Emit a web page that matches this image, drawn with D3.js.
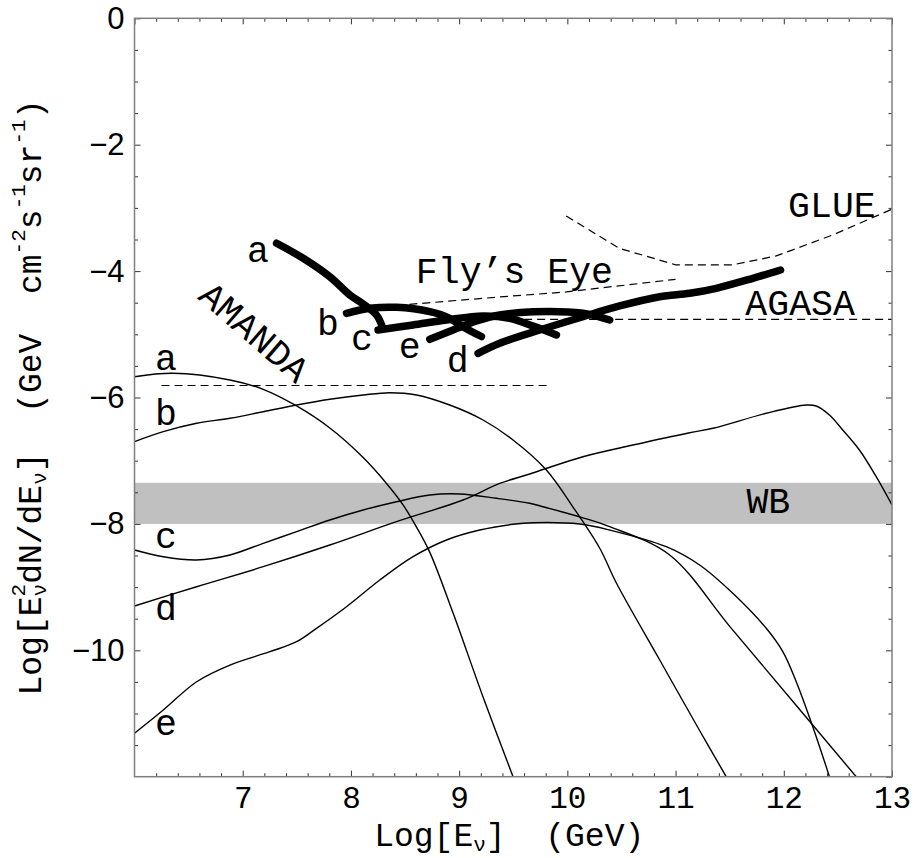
<!DOCTYPE html>
<html><head><meta charset="utf-8">
<script src="https://cdn.jsdelivr.net/npm/d3@7"></script>
<style>
html,body{margin:0;padding:0;background:#fff;}
svg{display:block;}
</style></head>
<body>
<svg id="chart" width="915" height="858"></svg>
<script>
// ---- data (log10 E [GeV], log10 E^2 dN/dE) ----
const xTickValues = [7, 8, 9, 10, 11, 12, 13];
const yTickValues = [0, -2, -4, -6, -8, -10];
const curveNames = ["a", "b", "c", "d", "e"];

const thinA = [[6.0,-5.671],[6.358,-5.617],[6.882,-5.723],[7.189,-5.870],[7.498,-6.134],[7.805,-6.483],[8.113,-6.95],[8.329,-7.36],[8.482,-7.70],[8.606,-8.05],[8.729,-8.45],[8.944,-9.41],[9.221,-10.739],[9.498,-12.0]];
const thinB = [[6.0,-6.699],[6.266,-6.541],[6.574,-6.408],[6.882,-6.329],[7.189,-6.225],[7.498,-6.119],[7.805,-6.028],[8.113,-5.960],[8.359,-5.924],[8.606,-5.960],[8.913,-6.119],[9.221,-6.356],[9.498,-6.672],[9.806,-7.147],[10.052,-7.733],[10.298,-8.381],[10.453,-8.935],[10.851,-10.146],[11.222,-11.269],[11.468,-12.0]];
const thinC = [[6.0,-8.413],[6.266,-8.519],[6.574,-8.571],[6.882,-8.492],[7.189,-8.307],[7.498,-8.123],[7.805,-7.938],[8.113,-7.780],[8.421,-7.649],[8.729,-7.543],[9.006,-7.527],[9.345,-7.595],[9.652,-7.674],[9.775,-7.728],[10.130,-7.896],[10.391,-8.044],[10.945,-8.492],[11.5,-9.621],[12.1,-10.842],[12.669,-12.0]];
const thinD = [[6.0,-9.299],[6.574,-8.994],[7.189,-8.677],[7.805,-8.334],[8.421,-7.965],[9.036,-7.622],[9.375,-7.36],[9.652,-7.21],[10.144,-6.937],[10.606,-6.752],[11.130,-6.557],[11.345,-6.487],[11.838,-6.250],[12.207,-6.119],[12.300,-6.134],[12.422,-6.277],[12.545,-6.514],[12.699,-6.831],[12.854,-7.253],[13.0,-7.701]];
const thinE = [[6.0,-11.313],[6.266,-10.945],[6.574,-10.497],[6.882,-10.233],[7.251,-10.022],[7.498,-9.864],[7.682,-9.652],[7.959,-9.310],[8.267,-8.888],[8.574,-8.519],[8.883,-8.255],[9.190,-8.097],[9.498,-8.006],[9.683,-7.981],[10.114,-8.002],[10.391,-8.097],[10.914,-8.361],[11.222,-8.650],[11.529,-9.098],[11.838,-9.652],[11.991,-10.022],[12.115,-10.497],[12.268,-11.209],[12.422,-12.0]];

const thickA = [[7.313,-3.56],[7.559,-3.797],[7.805,-4.089],[7.99,-4.378],[8.113,-4.52],[8.236,-4.695],[8.29,-4.88]];
const thickB = [[7.959,-4.668],[8.175,-4.589],[8.421,-4.573],[8.729,-4.642],[8.913,-4.747],[9.033,-4.88],[9.206,-5.035]];
const thickC = [[8.251,-4.932],[8.574,-4.853],[8.883,-4.774],[9.221,-4.71],[9.467,-4.747],[9.683,-4.869],[9.899,-5.011]];
const thickD = [[9.175,-5.301],[9.375,-5.142],[9.744,-4.932],[10.144,-4.722],[10.483,-4.552],[10.853,-4.405],[11.13,-4.351],[11.376,-4.272],[11.714,-4.114],[11.97,-3.983]];
const thickE = [[8.729,-5.079],[8.944,-4.932],[9.16,-4.79],[9.375,-4.695],[9.683,-4.642],[10.144,-4.668],[10.391,-4.774]];

const wbBand = [-8.0, -7.35];
const amandaLimit = [[6.25,-5.81],[9.82,-5.81]];
const agasaLimit = [[9.0,-4.763],[13.0,-4.763]];
const flysEyeLimit = [[8.54,-4.526],[9.37,-4.41],[9.99,-4.33],[11.0,-4.13]];
const glueLimit = [[9.99,-3.128],[10.48,-3.64],[11.0,-3.90],[11.53,-3.90],[11.93,-3.76],[12.45,-3.43],[13.0,-3.02]];

// ---- layout ----
const L = 134.5, R = 892, T = 18.3, B = 776.7;
const svg = d3.select("#chart");
const x = d3.scaleLinear().domain([6, 13]).range([L, R]);
const y = d3.scaleLinear().domain([-12, 0]).range([B, T]);

svg.append("defs").append("clipPath").attr("id","clip")
  .append("rect").attr("x",L).attr("y",T).attr("width",R-L).attr("height",B-T);

const plot = svg.append("g").attr("clip-path","url(#clip)");

// WB band
plot.append("rect")
  .attr("x", x(6)).attr("width", x(13)-x(6))
  .attr("y", y(wbBand[1])).attr("height", y(wbBand[0]) - y(wbBand[1]))
  .attr("fill", "#c0c0c0");

const smooth = d3.line().x(d=>x(d[0])).y(d=>y(d[1])).curve(d3.curveCatmullRom.alpha(0.5));
const straight = d3.line().x(d=>x(d[0])).y(d=>y(d[1]));

// dashed limits
[amandaLimit, agasaLimit, flysEyeLimit, glueLimit].forEach(d => plot.append("path").attr("d", straight(d))
  .attr("fill","none").attr("stroke","#000").attr("stroke-width",1.2).attr("stroke-dasharray","8,5"));

// thin model curves
[thinA, thinB, thinC, thinD, thinE].forEach(d => plot.append("path").attr("d", smooth(d))
  .attr("fill","none").attr("stroke","#000").attr("stroke-width",1.4));

// thick curves
[thickA, thickB, thickC, thickD, thickE].forEach(d => plot.append("path").attr("d", smooth(d))
  .attr("fill","none").attr("stroke","#000").attr("stroke-width",7.5)
  .attr("stroke-linecap","round").attr("stroke-linejoin","round"));

// ---- frame and ticks ----
const xMinor = d3.range(31, 65).map(i => i/5).filter(v => Math.abs(v - Math.round(v)) > 1e-6);
const xMajor = [6].concat(xTickValues);
const yMinor = d3.range(-23, 0).map(i => i/2).filter(v => Math.abs(v/2 - Math.round(v/2)) > 1e-6);
const yMajor = [-12].concat(yTickValues);

function addAxis(axis, tr) {
  const g = svg.append("g").attr("transform", tr).call(axis);
  g.select(".domain").remove();
  g.selectAll(".tick line").attr("stroke","#333").attr("stroke-width",1);
  return g;
}
addAxis(d3.axisBottom(x).tickValues(xMinor).tickSize(-3.5).tickFormat(""), `translate(0,${B})`);
addAxis(d3.axisTop(x).tickValues(xMinor).tickSize(-3.5).tickFormat(""), `translate(0,${T})`);
addAxis(d3.axisTop(x).tickValues(xMajor).tickSize(-6).tickFormat(""), `translate(0,${T})`);
addAxis(d3.axisLeft(y).tickValues(yMinor).tickSize(-3.5).tickFormat(""), `translate(${L},0)`);
addAxis(d3.axisRight(y).tickValues(yMinor).tickSize(-3.5).tickFormat(""), `translate(${R},0)`);
addAxis(d3.axisRight(y).tickValues(yMajor).tickSize(-6).tickFormat(""), `translate(${R},0)`);

const xAx = addAxis(d3.axisBottom(x).tickValues(xTickValues).tickSize(-6).tickPadding(9).tickFormat(d3.format("d")), `translate(0,${B})`);
xAx.selectAll("text").attr("font-family","'Liberation Mono', 'Courier New', monospace").attr("font-size",31).attr("fill","#000");
const yAx = addAxis(d3.axisLeft(y).tickValues(yTickValues).tickSize(-6).tickPadding(10).tickFormat(d3.format("d")), `translate(${L},0)`);
yAx.selectAll("text").attr("font-family","'Liberation Sans', Arial, sans-serif").attr("font-size",31).attr("fill","#000");

svg.append("rect").attr("x",L).attr("y",T).attr("width",R-L).attr("height",B-T)
  .attr("fill","none").attr("stroke","#7f7f7f").attr("stroke-width",1.5);

// ---- annotations ----
const mono = "'Liberation Mono', 'Courier New', monospace";
function label(txt, px, py, anchor, size) {
  return svg.append("text").attr("x", px).attr("y", py).attr("text-anchor", anchor || "middle")
    .attr("font-family", mono).attr("font-size", size || 36.5).attr("fill","#000").text(txt);
}
const thinLabelPos = {a:-5.565, b:-6.435, c:-8.38, d:-9.52, e:-11.34};
curveNames.forEach(n => label(n, x(6.29), y(thinLabelPos[n])));
const thickLabelPos = {a:[7.14,-3.856], b:[7.787,-5.011], c:[8.101,-5.248], d:[8.987,-5.597], e:[8.544,-5.375]};
curveNames.forEach(n => label(n, x(thickLabelPos[n][0]), y(thickLabelPos[n][1])));

label("Fly\u2019s Eye", x(8.60), y(-4.188), "start");
label("AGASA", x(11.645), y(-4.694), "start");
label("GLUE", x(12.04), y(-3.144), "start");
label("WB", x(11.655), y(-7.828), "start");
svg.append("text").attr("transform", `translate(${x(7.09)},${y(-4.998)}) rotate(41)`)
  .attr("text-anchor","middle").attr("dominant-baseline","central")
  .attr("font-family", mono).attr("font-size",36.5).attr("fill","#000").text("AMANDA");

// axis titles
const xt = svg.append("text").attr("x", (L+R)/2 - 4).attr("y", 846).attr("text-anchor","middle")
  .attr("font-family", mono).attr("font-size", 33).attr("fill","#000");
xt.append("tspan").text("Log[E");
xt.append("tspan").attr("font-size",21).attr("dy",5).text("\u03bd");
xt.append("tspan").attr("dy",-5).text("]\u00a0\u00a0(GeV)");

const yt = svg.append("text").attr("transform", `translate(32,${(T+B)/2}) rotate(-90)`)
  .attr("text-anchor","middle").attr("dominant-baseline","central")
  .attr("font-family", mono).attr("font-size", 33).attr("fill","#000");
yt.append("tspan").text("Log[E");
yt.append("tspan").attr("font-size",21).attr("dy",-13).text("2");
yt.append("tspan").attr("font-size",21).attr("dx",-12.6).attr("dy",21).text("\u03bd");
yt.append("tspan").attr("dy",-8).text("dN/dE");
yt.append("tspan").attr("font-size",21).attr("dy",8).text("\u03bd");
yt.append("tspan").attr("dy",-8).text("]\u00a0\u00a0(GeV\u00a0\u00a0cm");
yt.append("tspan").attr("font-size",21).attr("dy",-13).text("-2");
yt.append("tspan").attr("dy",13).text("s");
yt.append("tspan").attr("font-size",21).attr("dy",-13).text("-1");
yt.append("tspan").attr("dy",13).text("sr");
yt.append("tspan").attr("font-size",21).attr("dy",-13).text("-1");
yt.append("tspan").attr("dy",13).text(")");
</script>
</body></html>
